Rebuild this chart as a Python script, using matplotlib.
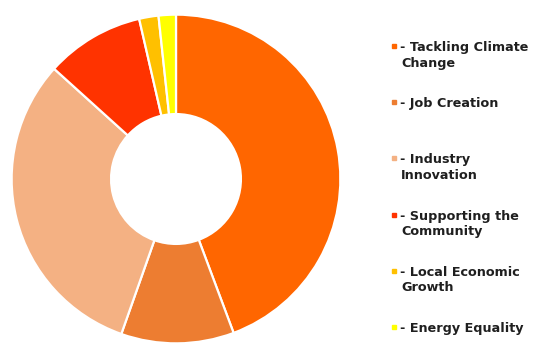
import matplotlib
matplotlib.use("Agg")
import matplotlib.pyplot as plt
from matplotlib.lines import Line2D

categories = ["Tackling Climate\nChange", "Job Creation", "Industry\nInnovation",
              "Supporting the\nCommunity", "Local Economic\nGrowth", "Energy Equality"]
values = [44.3, 11.1, 31.3, 9.7, 1.9, 1.7]
colors = ["#FF6600", "#ED7D31", "#F4B183", "#FF3300", "#FFC000", "#FFFF00"]

W, H = 533, 352
fig = plt.figure(figsize=(W / 100, H / 100), dpi=100)
fig.patch.set_facecolor("white")

cx, cy, r = 176, 179, 166
ax = fig.add_axes([(cx - r) / W, (H - cy - r) / H, 2 * r / W, 2 * r / H])
ax.pie(values, colors=colors, startangle=90, counterclock=False, radius=1,
       wedgeprops=dict(width=0.605, edgecolor="white", linewidth=1.6))
ax.set_xlim(-1.01, 1.01)
ax.set_ylim(-1.01, 1.01)
ax.set_aspect("equal")
ax.axis("off")

y0, dy, lh = 46, 56.2, 15.5
for i, (lab, col) in enumerate(zip(categories, colors)):
    ypix = y0 + i * dy
    fig.add_artist(Line2D([394 / W], [1 - ypix / H], marker="s", markersize=3.0,
                          color=col, linestyle="none", transform=fig.transFigure))
    for j, line in enumerate(lab.split("\n")):
        txt = ("- " + line) if j == 0 else line
        fig.text(400 / W if j == 0 else 401 / W, 1 - (ypix + j * lh) / H, txt,
                 ha="left", va="center_baseline", fontsize=9.2, fontweight="bold",
                 color="#1f1f1f", transform=fig.transFigure)

fig.savefig("out.png", dpi=100, facecolor="white")
